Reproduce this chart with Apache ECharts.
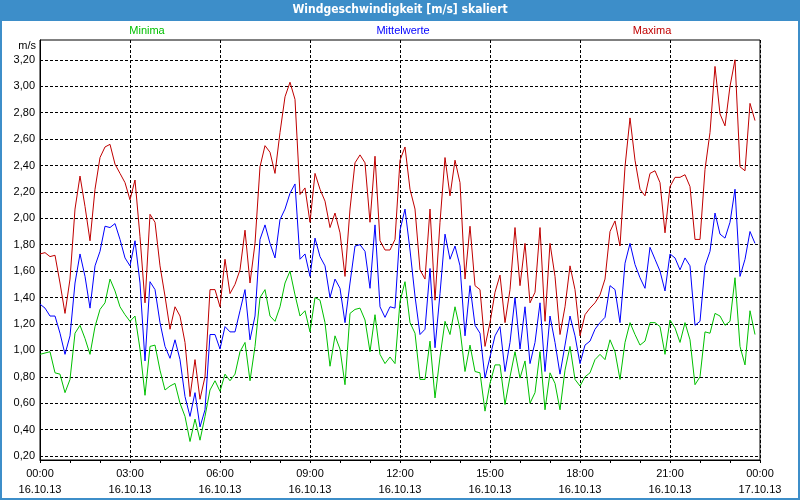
<!DOCTYPE html>
<html>
<head>
<meta charset="utf-8">
<script src="https://cdn.jsdelivr.net/npm/echarts@6/dist/echarts.min.js"></script>
<style>
html,body{margin:0;padding:0;background:#fff;}
#c{width:800px;height:500px;}
</style>
</head>
<body>
<div id="c"></div>
<script>
// 10-minute samples, 16.10.13 00:00 .. 23:50
const stepMinutes = 10;
const maxima = [
1.73,1.74,1.71,1.72,1.51,1.28,1.54,2.07,2.32,2.09,1.83,2.22,2.46,2.54,2.56,2.41,2.34,2.27,2.14,2.29,
1.86,1.36,2.03,1.97,1.64,1.41,1.16,1.33,1.26,1.06,0.65,0.93,0.63,0.80,1.46,1.46,
1.33,1.69,1.43,1.50,1.61,1.91,1.51,1.81,2.39,2.55,2.50,2.34,2.65,2.92,3.03,2.90,2.18,2.23,1.97,2.34,
2.22,2.13,1.93,2.04,1.89,1.56,2.07,2.42,2.48,2.42,1.97,2.47,1.83,1.76,1.76,1.84,
2.44,2.54,2.22,2.07,1.61,1.54,2.07,1.38,1.97,2.46,2.17,2.44,2.27,1.54,1.94,1.49,1.46,1.03,1.21,1.44,
1.57,1.21,1.46,1.93,1.49,1.81,1.36,1.44,1.93,1.22,1.81,1.56,1.12,1.33,1.64,1.46,
1.11,1.27,1.32,1.36,1.42,1.54,1.90,1.98,1.79,2.39,2.76,2.44,2.22,2.17,2.34,2.36,2.27,1.89,2.24,2.31,
2.31,2.33,2.24,1.84,1.84,2.37,2.65,3.15,2.79,2.70,3.00,3.20,2.39,2.36,2.87,2.74
];
const mittelwerte = [
1.35,1.32,1.26,1.26,1.13,0.97,1.11,1.51,1.73,1.56,1.32,1.64,1.75,1.94,1.93,1.96,1.84,1.70,1.64,1.83,
1.51,0.92,1.52,1.46,1.21,1.03,0.94,1.08,0.93,0.65,0.50,0.68,0.42,0.55,1.12,1.12,
1.01,1.18,1.14,1.14,1.30,1.46,1.08,1.26,1.84,1.95,1.81,1.70,1.99,2.07,2.19,2.26,1.69,1.73,1.56,1.85,
1.71,1.64,1.40,1.54,1.47,1.21,1.51,1.79,1.80,1.75,1.47,1.95,1.33,1.25,1.33,1.32,
1.91,2.07,1.76,1.41,1.12,1.16,1.62,1.02,1.43,1.88,1.69,1.79,1.64,1.11,1.49,1.19,1.13,0.79,0.95,1.11,
1.18,0.84,1.06,1.40,1.01,1.33,0.90,1.06,1.36,0.84,1.26,1.06,0.82,1.04,1.26,1.11,
0.90,1.04,1.07,1.16,1.21,1.25,1.49,1.46,1.21,1.66,1.81,1.65,1.55,1.47,1.78,1.69,1.60,1.45,1.73,1.70,
1.61,1.70,1.64,1.19,1.22,1.64,1.75,2.04,1.88,1.85,1.97,2.22,1.56,1.69,1.90,1.81
];
const minima = [
0.97,0.98,0.99,0.83,0.82,0.68,0.78,1.13,1.19,1.09,0.97,1.18,1.31,1.36,1.54,1.45,1.33,1.27,1.22,1.26,
1.01,0.66,1.03,1.04,0.85,0.70,0.73,0.75,0.60,0.50,0.31,0.48,0.32,0.50,0.70,0.77,
0.69,0.82,0.77,0.82,0.99,1.06,0.77,1.03,1.40,1.46,1.26,1.22,1.33,1.51,1.60,1.42,1.26,1.30,1.14,1.40,
1.38,1.21,0.88,1.11,1.01,0.74,1.28,1.31,1.32,1.23,0.99,1.27,0.97,0.90,0.95,0.90,
1.37,1.52,1.21,1.13,0.78,0.78,1.07,0.64,0.95,1.22,1.12,1.33,1.16,0.84,1.04,0.84,0.83,0.54,0.75,0.89,
0.89,0.59,0.80,0.99,0.79,0.92,0.60,0.68,0.99,0.55,0.83,0.75,0.55,0.85,1.03,0.78,
0.73,0.80,0.83,0.93,0.97,0.93,1.08,0.99,0.78,1.06,1.21,1.12,1.04,1.07,1.21,1.21,1.18,0.97,1.23,1.17,
1.06,1.21,1.08,0.74,0.80,1.14,1.13,1.28,1.26,1.19,1.22,1.55,1.03,0.89,1.30,1.12
];
const xTickLabels = [
"00:00\n16.10.13","03:00\n16.10.13","06:00\n16.10.13","09:00\n16.10.13","12:00\n16.10.13",
"15:00\n16.10.13","18:00\n16.10.13","21:00\n16.10.13","00:00\n17.10.13"
];
const yTickValues = [0.2,0.4,0.6,0.8,1.0,1.2,1.4,1.6,1.8,2.0,2.2,2.4,2.6,2.8,3.0,3.2];
const seriesNames = ["Minima","Mittelwerte","Maxima"];
const seriesColors = ["#00c000","#0000ff","#c00000"];

const hours = maxima.map((_, i) => i * stepMinutes / 60);
const pairs = arr => arr.map((v, i) => [hours[i], v]);

const FONT = "'Liberation Sans', Arial, sans-serif";
const chart = echarts.init(document.getElementById('c'), null, {renderer: 'canvas'});
const legendCenters = [147, 403, 652];
chart.setOption({
  animation: false,
  backgroundColor: '#ffffff',
  title: {
    text: 'Windgeschwindigkeit [m/s] skaliert',
    left: 'center', top: 3, padding: 0,
    textStyle: {color: '#ffffff', fontSize: 12, fontWeight: 'bold',
      fontFamily: "'Liberation Sans Narrow', 'DejaVu Sans Condensed', sans-serif", lineHeight: 14}
  },
  graphic: [
    {type: 'rect', z: -1, shape: {x: 0, y: 0, width: 800, height: 21}, style: {fill: '#3d8ec9'}},
    {type: 'rect', shape: {x: 0, y: 0, width: 2, height: 500}, style: {fill: '#3d8ec9'}},
    {type: 'rect', shape: {x: 798, y: 0, width: 2, height: 500}, style: {fill: '#3d8ec9'}},
    {type: 'rect', shape: {x: 0, y: 498, width: 800, height: 2}, style: {fill: '#3d8ec9'}},
    {type: 'text', x: 36, y: 46, style: {text: 'm/s', fill: '#000', font: '11px ' + FONT, textAlign: 'right', textVerticalAlign: 'middle'}}
  ].concat(seriesNames.map((n, i) => ({
    type: 'text', x: legendCenters[i], y: 31,
    style: {text: n, fill: seriesColors[i], font: '11px ' + FONT, textAlign: 'center', textVerticalAlign: 'middle'}
  }))),
  grid: {left: 40, right: 40, top: 40, bottom: 40, show: true, borderColor: '#000', borderWidth: 1, backgroundColor: 'transparent'},
  xAxis: {
    type: 'value', min: 0, max: 24, interval: 3,
    axisLine: {show: true, lineStyle: {color: '#000', width: 1}},
    axisTick: {show: true, length: 3, lineStyle: {color: '#000'}},
    minorTick: {show: true, splitNumber: 3, length: 3, lineStyle: {color: '#000'}},
    splitLine: {show: true, lineStyle: {color: '#000', type: [3, 2], width: 1}},
    axisLabel: {
      margin: 6, color: '#000', fontSize: 11, fontFamily: FONT, lineHeight: 16,
      formatter: v => xTickLabels[Math.round(v / 3)]
    }
  },
  yAxis: {
    type: 'value', min: 0.17, max: 3.35,
    axisLine: {show: true, lineStyle: {color: '#000', width: 1}},
    axisTick: {show: false, customValues: yTickValues},
    splitLine: {show: true, lineStyle: {color: '#000', type: [3, 2], width: 1}},
    axisLabel: {
      customValues: yTickValues, margin: 5, color: '#000', fontSize: 11, fontFamily: FONT,
      formatter: v => v.toFixed(2).replace('.', ',')
    }
  },
  series: [minima, mittelwerte, maxima].map((arr, i) => ({
    name: seriesNames[i], type: 'line', data: pairs(arr), showSymbol: false, symbol: 'none',
    lineStyle: {color: seriesColors[i], width: 1}, itemStyle: {color: seriesColors[i]}, z: 2 + i
  }))
});
</script>
</body>
</html>
